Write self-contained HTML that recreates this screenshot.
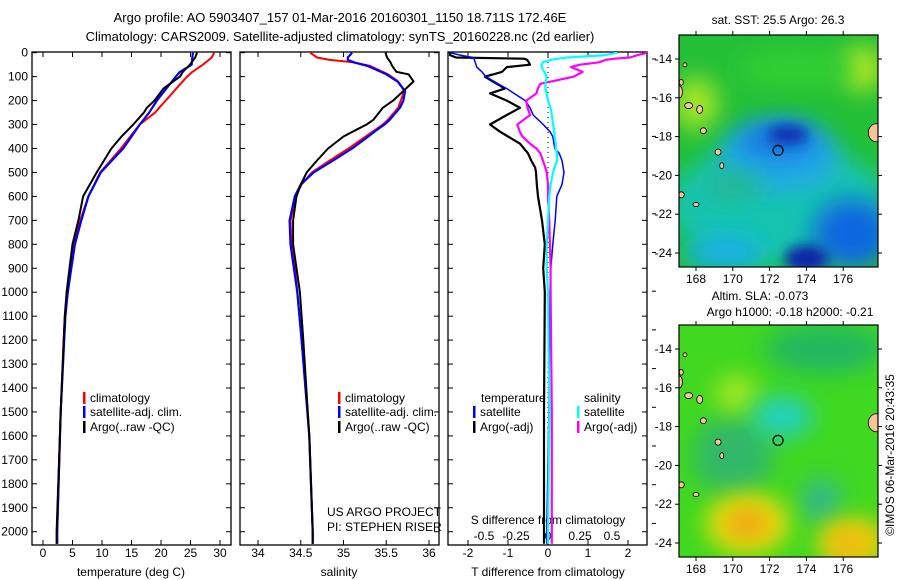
<!DOCTYPE html>
<html><head><meta charset="utf-8"><style>
body{margin:0;background:#fff;}
svg{display:block;font-family:"Liberation Sans",sans-serif;}
</style></head><body>
<svg id="fig" width="900" height="580" viewBox="0 0 900 580">
<defs>
<filter id="bl" x="-50%" y="-50%" width="200%" height="200%"><feGaussianBlur stdDeviation="12"/></filter>
<filter id="bl2" x="-50%" y="-50%" width="200%" height="200%"><feGaussianBlur stdDeviation="6"/></filter>
<clipPath id="c1"><rect x="32" y="52" width="199" height="493"/></clipPath>
<clipPath id="c2"><rect x="240" y="52" width="199" height="493"/></clipPath>
<clipPath id="c3"><rect x="448" y="52" width="199" height="493"/></clipPath>
<clipPath id="m1"><rect x="679" y="35" width="199" height="232"/></clipPath>
<clipPath id="m2"><rect x="679" y="325" width="199" height="232"/></clipPath>
</defs>
<text x="340" y="22" font-size="13" text-anchor="middle">Argo profile: AO 5903407_157 01-Mar-2016 20160301_1150 18.711S 172.46E</text>
<text x="340" y="41" font-size="13" text-anchor="middle">Climatology: CARS2009. Satellite-adjusted climatology: synTS_20160228.nc (2d earlier)</text>
<g id="g1"></g>
<g id="g2"></g>
<g id="g3"></g>
<g id="maps"></g>
</svg>
<script>
// ---- data (depth m, values) ----
const depthT = [0,20,50,80,100,150,200,230,250,300,350,400,500,600,700,800,900,1000,1100,1200,1500,2000,2050];
const tempClim = [29.0,28.6,27.1,25.3,24.4,22.6,20.8,19.7,19.0,16.4,14.8,13.2,9.7,7.7,6.3,5.3,4.7,4.1,3.7,3.5,3.0,2.4,2.4];
const tempSat  = [25.4,25.3,25.2,23.2,22.5,20.9,19.3,18.5,18.0,16.4,15.0,13.6,9.8,7.7,6.5,5.4,4.8,4.2,3.8,3.6,3.0,2.4,2.4];
const tempArgo = [26.1,25.8,24.9,23.7,23.2,20.4,18.9,17.6,17.1,15.3,13.3,11.6,9.1,6.8,6.0,5.0,4.5,4.0,3.7,3.5,3.0,2.3,2.3];
const depthS = [0,20,30,40,55,80,90,120,160,200,230,280,300,320,350,400,450,500,550,600,650,700,800,900,1000,1200,1600,2000,2050];
const salClim = [34.61,34.69,34.84,35.11,35.31,35.46,35.52,35.64,35.71,35.67,35.64,35.52,35.46,35.38,35.26,35.06,34.84,34.63,34.51,34.44,34.41,34.38,34.39,34.43,34.46,34.51,34.60,34.64,34.64];
const salSat  = [35.10,35.05,35.05,35.12,35.28,35.44,35.50,35.63,35.72,35.70,35.66,35.54,35.48,35.40,35.29,35.10,34.88,34.65,34.50,34.43,34.40,34.37,34.38,34.42,34.46,34.51,34.60,34.64,34.64];
const salArgo = [35.49,35.51,35.53,35.55,35.57,35.62,35.76,35.82,35.70,35.58,35.46,35.35,35.27,35.16,35.00,34.82,34.69,34.57,34.50,34.45,34.43,34.41,34.41,34.45,34.49,34.53,34.60,34.64,34.64];
const depthD = [0,10,20,25,30,40,50,60,80,100,130,150,170,200,230,260,300,330,350,380,400,420,450,480,500,550,600,700,800,900,1000,1500,2000,2050];
const tdSat  = [-2.45,-2.2,-1.87,-1.85,-1.84,-1.82,-1.8,-1.78,-1.65,-1.55,-1.25,-1.03,-0.85,-0.57,-0.45,-0.37,-0.12,0.05,0.12,0.15,0.17,0.28,0.35,0.38,0.40,0.35,0.22,0.18,0.12,0.07,0.05,0.02,-0.03,-0.03];
const tdArgo = [-2.45,-2.45,-2.3,-0.6,-0.52,-0.48,-0.45,-1.03,-1.15,-1.58,-1.28,-1.08,-1.45,-1.03,-0.7,-1.03,-1.45,-1.2,-1.0,-0.7,-0.6,-0.5,-0.42,-0.32,-0.3,-0.28,-0.25,-0.15,-0.08,-0.12,-0.08,-0.1,-0.1,-0.1];
const sdSat  = [0.54,0.45,0.15,0.08,0.02,-0.04,-0.05,-0.05,-0.03,-0.01,-0.02,-0.02,-0.01,0.0,0.02,0.03,0.04,0.05,0.05,0.06,0.06,0.07,0.07,0.05,0.04,0.02,0.01,0.0,-0.01,-0.01,0.0,0.01,0.0,0.0];
const sdArgo = [0.78,0.7,0.64,0.52,0.45,0.4,0.25,0.18,0.27,0.2,-0.06,-0.08,-0.09,-0.17,-0.16,-0.14,-0.24,-0.22,-0.2,-0.14,-0.09,-0.06,-0.04,-0.02,-0.01,0.0,0.0,0.01,0.015,0.02,0.02,0.03,0.03,0.03];
const depthTicks = [0,100,200,300,400,500,600,700,800,900,1000,1100,1200,1300,1400,1500,1600,1700,1800,1900,2000];
const tempTicks = [0,5,10,15,20,25,30];
const salTicks = [34,34.5,35,35.5,36];
const tdTicks = [-2,-1,0,1,2];
const sdTicks = [-0.5,-0.25,0,0.25,0.5];
const lonTicks = [168,170,172,174,176];
const latTicks = [-14,-16,-18,-20,-22,-24];

const NS='http://www.w3.org/2000/svg';
function mk(tag,attrs,parent){const e=document.createElementNS(NS,tag);for(const k in attrs)e.setAttribute(k,attrs[k]);parent.appendChild(e);return e;}
const yD = d => 52.7 + d*0.2395;
const xT = t => 43 + t*5.9;
const xS = s => 258 + (s-34)*85.5;
const xTD = v => 548 + v*40;
const xSD = v => 548 + v*128;
const TOP=52, BOT=545;

function frame(g,x0,x1){
  const r=mk('rect',{x:x0,y:TOP,width:x1-x0,height:BOT-TOP,fill:'none',stroke:'#000','stroke-width':1.3},g);
  
  
  depthTicks.forEach(d=>{
    const y=yD(d);
    mk('line',{x1:x0,x2:x0+5,y1:y,y2:y,stroke:'#000'},g);
    mk('line',{x1:x1,x2:x1-5,y1:y,y2:y,stroke:'#000'},g);
  });
}
function xticks(g,ticks,fx,y){
  ticks.forEach(t=>{
    const x=fx(t);
    mk('line',{x1:x,x2:x,y1:TOP,y2:TOP+5,stroke:'#000'},g);
    mk('line',{x1:x,x2:x,y1:BOT,y2:BOT-5,stroke:'#000'},g);
    const tx=mk('text',{x:x,y:y,'font-size':12,'text-anchor':'middle'},g);
    tx.textContent=String(t);
    
    
  });
}
function line(g,depths,vals,fx,color,w,clip,name){
  const pts=depths.map((d,i)=>fx(vals[i]).toFixed(1)+','+yD(d).toFixed(1)).join(' ');
  const p=mk('polyline',{points:pts,fill:'none',stroke:color,'stroke-width':w,'clip-path':'url(#'+clip+')','stroke-linejoin':'round'},g);
  
  
}
function label(g,x,y,txt,name,anchor,size){
  const t=mk('text',{x:x,y:y,'font-size':size||12,'text-anchor':anchor||'start'},g);
  t.textContent=txt;
  
  
  return t;
}
function legend(g,x,y,color,txt){
  const b=mk('rect',{x:x,y:y-10,width:2.5,height:12,fill:color},g);
  
  
  label(g,x+7,y,txt,'legend-entry');
}

// Panel 1
const g1=document.getElementById('g1');
frame(g1,32,231);
depthTicks.forEach(d=>label(g1,28,yD(d)+4,String(d),'y-tick-label','end'));
xticks(g1,tempTicks,xT,557);
label(g1,131,576,'temperature (deg C)','x-axis-title','middle');
line(g1,depthT,tempClim,xT,'#f00',2,'c1','climatology-line');
line(g1,depthT,tempSat,xT,'#00f',2.2,'c1','satellite-line');
line(g1,depthT,tempArgo,xT,'#000',2,'c1','argo-line');
legend(g1,83,402,'#f00','climatology');
legend(g1,83,416,'#00f','satellite-adj. clim.');
legend(g1,83,431,'#000','Argo(..raw -QC)');

// Panel 2
const g2=document.getElementById('g2');
frame(g2,240,439);
xticks(g2,salTicks,xS,557);
label(g2,339,576,'salinity','x-axis-title','middle');
line(g2,depthS,salClim,xS,'#f00',2,'c2','climatology-line');
line(g2,depthS,salSat,xS,'#00f',2.2,'c2','satellite-line');
line(g2,depthS,salArgo,xS,'#000',2,'c2','argo-line');
legend(g2,338,402,'#f00','climatology');
legend(g2,338,416,'#00f','satellite-adj. clim.');
legend(g2,338,431,'#000','Argo(..raw -QC)');
label(g2,327,516,'US ARGO PROJECT','project-label');
label(g2,327,531,'PI: STEPHEN RISER','pi-label');

// Panel 3
const g3=document.getElementById('g3');
frame(g3,448,647);
tdTicks.forEach(t=>{const x=xTD(t);mk('line',{x1:x,x2:x,y1:BOT,y2:BOT-5,stroke:'#000'},g3);mk('line',{x1:x,x2:x,y1:TOP,y2:TOP+5,stroke:'#000'},g3);
  label(g3,x,557,String(t),'t-diff-tick-label','middle');});
sdTicks.forEach(t=>label(g3,xSD(t),540,String(t),'s-diff-tick-label','middle'));
label(g3,548,576,'T difference from climatology','x-axis-title','middle');
label(g3,548,524,'S difference from climatology','s-axis-title','middle');
mk('line',{x1:548,x2:548,y1:TOP,y2:BOT,stroke:'#000','stroke-dasharray':'1,4'},g3);
for(let y=59;y<548;y+=38.7){mk('line',{x1:652,x2:656,y1:y,y2:y,stroke:'#000'},g3);}
line(g3,depthD,tdArgo,xTD,'#000',2.2,'c3','t-diff-argo-line');
line(g3,depthD,tdSat,xTD,'#00f',1.5,'c3','t-diff-satellite-line');
line(g3,depthD,sdArgo,xSD,'#f0f',2.2,'c3','s-diff-argo-line');
line(g3,depthD,sdSat,xSD,'#0ff',2.2,'c3','s-diff-satellite-line');
label(g3,481,402,'temperature','legend-title');
label(g3,584,402,'salinity','legend-title');
legend(g3,473,416,'#00f','satellite');
legend(g3,473,431,'#000','Argo(-adj)');
legend(g3,577,416,'#0ff','satellite');
legend(g3,577,431,'#f0f','Argo(-adj)');

// Maps
const gm=document.getElementById('maps');
const xL = lon => 696 + (lon-168)*18.4;
const yL = (lat,off) => 59 + off + (-14-lat)*19.4;
function mapAxes(off){
  const r=mk('rect',{x:679,y:35+off,width:199,height:232,fill:'none',stroke:'#000','stroke-width':1.2},gm);
  
  
  lonTicks.forEach(l=>{const x=xL(l);mk('line',{x1:x,x2:x,y1:35+off,y2:31+off,stroke:'#000'},gm);mk('line',{x1:x,x2:x,y1:267+off,y2:271+off,stroke:'#000'},gm);
    label(gm,x,283+off,String(l),'map-lon-label','middle',12);});
  latTicks.forEach(l=>{const y=yL(l,off);mk('line',{x1:675,x2:679,y1:y,y2:y,stroke:'#000'},gm);mk('line',{x1:878,x2:882,y1:y,y2:y,stroke:'#000'},gm);
    label(gm,672,y+4,String(l),'map-lat-label','end',12);});
}
function blob(parent,lon,lat,rx,ry,color,off,f){
  mk('ellipse',{cx:xL(lon),cy:yL(lat,off),rx:rx,ry:ry,fill:color,filter:'url(#'+(f||'bl')+')'},parent);
}
function islands(parent,off){
  const isl=[[167.1,-15.7,3,6],[167.6,-16.4,4,3],[168.2,-16.6,3,4],[168.4,-17.7,3,3],[169.2,-18.8,3,3],[169.4,-19.5,2,3],[167.2,-21.0,3,3],[168.0,-21.5,3,2],[177.8,-17.8,8,9],[167.4,-14.3,2,2],[167.2,-15.2,2,3]];
  isl.forEach(a=>{mk('ellipse',{cx:xL(a[0]),cy:yL(a[1],off),rx:a[2],ry:a[3],fill:'#f8c498',stroke:'#000','stroke-width':0.8},parent);});
  const c=mk('circle',{cx:xL(172.46),cy:yL(-18.711,off),r:5,fill:'none',stroke:'#000','stroke-width':1.2},parent);
  
  
}
// top map (SST)
const m1=mk('g',{'clip-path':'url(#m1)'},gm);


mk('rect',{x:679,y:35,width:199,height:232,fill:'#24c038'},m1);
blob(m1,168.0,-16.3,22,26,'#a8e828',0);
blob(m1,177,-14.5,20,22,'#c0ea20',0);
blob(m1,173.5,-14.5,60,18,'#30d030',0);
blob(m1,172.5,-21.5,110,60,'#18c4b0',0);
blob(m1,172.5,-19,60,35,'#20a8e8',0);
blob(m1,172.5,-18.2,40,18,'#1878e0',0);
blob(m1,173,-17.9,20,9,'#0a2eb0',0,'bl2');
blob(m1,176.5,-23,40,35,'#1068e0',0);
blob(m1,174,-24.3,22,14,'#0828a8',0,'bl2');
blob(m1,169.5,-24,40,18,'#18b0e8',0);
blob(m1,170,-20.5,30,15,'#20b890',0);
islands(m1,0);
mapAxes(0);
label(gm,778,24,'sat. SST: 25.5 Argo: 26.3','sst-map-title','middle',12);
// bottom map (SLA)
const off=290;
const m2=mk('g',{'clip-path':'url(#m2)'},gm);


mk('rect',{x:679,y:325,width:199,height:232,fill:'#40d820'},m2);
blob(m2,175,-14,60,25,'#20b860',off);
blob(m2,170,-19.5,40,40,'#30b868',off);
blob(m2,170.2,-16.3,22,18,'#a8e820',off);
blob(m2,172.7,-17.5,30,20,'#20d0c8',off);
blob(m2,174.8,-21.8,20,22,'#30b890',off);
blob(m2,170.8,-23,42,30,'#e8e010',off);
blob(m2,170.8,-23,22,16,'#f0a010',off);
blob(m2,176.5,-24,35,25,'#f0d010',off);
blob(m2,176.3,-24,18,12,'#f0b010',off);
islands(m2,off);
mapAxes(off);
label(gm,760,300,'Altim. SLA: -0.073','sla-map-title','middle',12);
label(gm,790,316,'Argo h1000: -0.18 h2000: -0.21','sla-map-subtitle','middle',12);
const cr=label(gm,0,0,'©IMOS 06-Mar-2016 20:43:35','imos-credit','middle',12);
cr.setAttribute('transform','translate(894,455) rotate(-90)');
</script>
</body></html>
